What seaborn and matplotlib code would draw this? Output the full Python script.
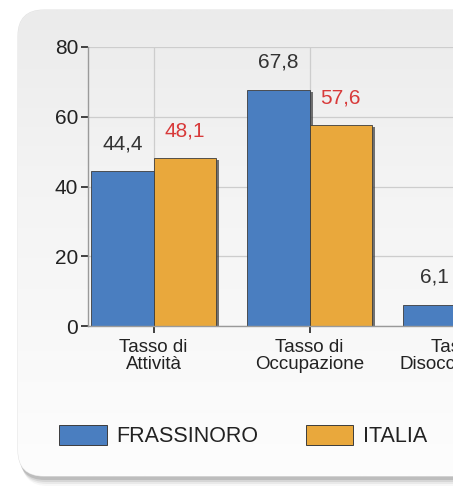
import numpy as np
import pandas as pd
import matplotlib.pyplot as plt
import seaborn as sns
from matplotlib.patches import FancyBboxPatch
from matplotlib.colors import LinearSegmentedColormap
from matplotlib import patheffects as pe

# data (the third group is cut off at the right edge)
categories = ['Tasso di\nAttività', 'Tasso di\nOccupazione', 'Tasso di\nDisoccupazione']
frassinoro = [44.4, 67.8, 6.1]
italia = [48.1, 57.6, 11.4]
series = ['FRASSINORO', 'ITALIA']
yticks = [0, 20, 40, 60, 80]

bar_colors = ['#4a7ec0', '#e9a83c']
label_colors = ['#333333', '#d83a3a']

df = pd.DataFrame({
    'categoria': categories * 2,
    'valore': frassinoro + italia,
    'serie': [series[0]] * len(categories) + [series[1]] * len(categories),
})

sns.set_style('white')
plt.rcParams['font.family'] = ['Liberation Sans', 'DejaVu Sans']

fig = plt.figure(figsize=(4.53, 4.91), dpi=100)
fig.patch.set_facecolor('white')

# background panel with rounded corner, gradient and a soft shadow
bg = fig.add_axes([0, 0, 1, 1], zorder=0)
bg.set_xlim(0, 453)
bg.set_ylim(491, 0)
bg.axis('off')
for k, a in enumerate([0.05, 0.09, 0.14, 0.22]):
    sh = FancyBboxPatch((18 + 4 - k, 10 + 10 - 2 * k), 520, 466,
                        boxstyle='round,pad=0,rounding_size=26',
                        facecolor='#666666', edgecolor='none', alpha=a, zorder=0)
    bg.add_patch(sh)
panel = FancyBboxPatch((18, 10), 520, 466, boxstyle='round,pad=0,rounding_size=26',
                       facecolor='white', edgecolor='#e4e4e4', linewidth=0.8, zorder=1)
bg.add_patch(panel)
cmap = LinearSegmentedColormap.from_list('bgr', ['#ebebeb', '#f3f3f3', '#f8f8f8', '#fdfdfd'])
grad = np.linspace(0, 1, 256).reshape(-1, 1)
im = bg.imshow(grad, extent=[18, 540, 476, 10], cmap=cmap, aspect='auto', zorder=2)
im.set_clip_path(panel)

# plot area (extends beyond right edge of the figure, like the cropped original)
ax = fig.add_axes([88 / 453, 1 - 326 / 491, 443 / 453, (326 - 47) / 491], zorder=1)
ax.set_facecolor('none')

sns.barplot(data=df, x='categoria', y='valore', hue='serie', hue_order=series,
            palette=bar_colors, width=0.8, saturation=1, edgecolor='#3c3c3c',
            linewidth=0.6, legend=False, ax=ax)

for bar in ax.patches:
    bar.set_path_effects([pe.SimplePatchShadow(offset=(2.5, -1.5), shadow_rgbFace='#3a3a3a', alpha=0.7),
                          pe.Normal()])

for i, cont in enumerate(ax.containers):
    vals = frassinoro if i == 0 else italia
    ax.bar_label(cont, labels=[f'{v:.1f}'.replace('.', ',') for v in vals],
                 padding=13, color=label_colors[i], fontsize=15)

ax.set_ylim(0, 80)
ax.set_yticks(yticks)
ax.set_xlim(-0.42, 2.42)
ax.set_xlabel('')
ax.set_ylabel('')
ax.grid(True, color='#cdcdcd', linewidth=0.9)
ax.set_axisbelow(True)
sns.despine(ax=ax, top=True, right=True)
for s in ['left', 'bottom']:
    ax.spines[s].set_color('#9a9a9a')
    ax.spines[s].set_linewidth(1)
ax.tick_params(axis='both', direction='out', length=5, width=1.3, color='#333333',
               labelcolor='#222222', left=True, bottom=True)
ax.tick_params(axis='y', labelsize=15, pad=2)
ax.tick_params(axis='x', labelsize=13.5, pad=4)
for t in ax.get_xticklabels():
    t.set_linespacing(1.05)

handles = [FancyBboxPatch((0, 0), 1, 1, boxstyle='round,pad=0,rounding_size=0.1',
                          facecolor=c, edgecolor='#3c3c3c', linewidth=0.7) for c in bar_colors]
fig.legend(handles, series, loc='center', bbox_to_anchor=(243 / 453, 1 - 436 / 491),
           ncol=2, frameon=False, fontsize=15.5, handlelength=2.2, handleheight=1.1,
           handletextpad=0.45, columnspacing=2.2, labelcolor='#222222')

fig.savefig('out.png', dpi=100, facecolor=fig.get_facecolor())
